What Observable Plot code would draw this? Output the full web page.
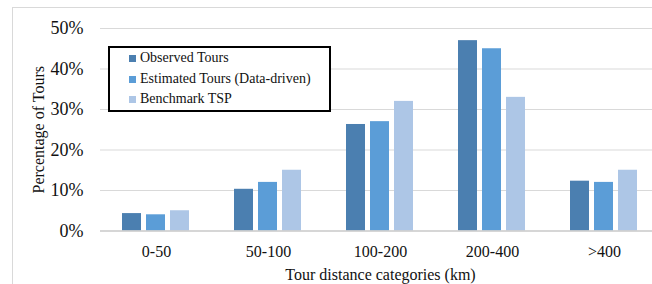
<!DOCTYPE html>
<html>
<head>
<meta charset="utf-8">
<script src="https://cdn.jsdelivr.net/npm/d3@7"></script>
<script src="https://cdn.jsdelivr.net/npm/@observablehq/plot@0.6"></script>
<style>
  html, body { margin: 0; padding: 0; background: #fff; }
  #wrap { position: relative; width: 652px; height: 284px; overflow: hidden; font-family: "Liberation Serif", "Times New Roman", serif; }
  #frame { position: absolute; left: 12px; top: 7px; width: 700px; height: 320px; border: 1px solid #d9d9d9; box-sizing: border-box; }
  #chart { position: absolute; left: 0; top: 0; width: 663px; }
  #chart svg { max-width: none !important; width: 663px; height: 284px; }
  #legend { position: absolute; left: 108px; top: 46px; width: 223px; height: 66px; border: 2px solid #000; box-sizing: border-box; background: #fff; }
  .item { position: absolute; left: 19px; height: 20px; display: flex; align-items: center; font-size: 14px; color: #111; white-space: nowrap; }
  .sw { width: 7px; height: 7px; margin-right: 4px; }
</style>
</head>
<body>
<div id="wrap">
  <div id="frame"></div>
  <div id="chart"></div>
  <div id="legend"></div>
</div>
<script>
const categories = ["0-50", "50-100", "100-200", "200-400", ">400"];
const seriesNames = ["Observed Tours", "Estimated Tours (Data-driven)", "Benchmark TSP"];
const seriesColors = ["#4b7fb0", "#5b9dd7", "#adc6e6"];
const observed  = [4.3, 10.3, 26.3, 47.0, 12.3];
const estimated = [4.0, 12.0, 27.0, 45.0, 12.0];
const benchmark = [5.0, 15.0, 32.0, 33.0, 15.0];
const yTicks = [0, 10, 20, 30, 40, 50];

const valuesBySeries = [observed, estimated, benchmark];
const data = [];
categories.forEach((c, i) => {
  seriesNames.forEach((s, j) => data.push({cat: c, series: s, value: valuesBySeries[j][i]}));
});

const plot = Plot.plot({
  width: 663,
  height: 284,
  marginLeft: 98,
  marginRight: 0.5,
  marginTop: 28,
  marginBottom: 53.5,
  style: {fontFamily: "Liberation Serif, Times New Roman, serif", background: "transparent", color: "#111", maxWidth: "none"},
  fx: {domain: categories, paddingInner: 0, paddingOuter: 0, label: null},
  x: {domain: seriesNames, paddingInner: 0.2, paddingOuter: 0.86, axis: null},
  y: {domain: [0, 50], label: null},
  color: {domain: seriesNames, range: seriesColors},
  marks: [
    Plot.ruleY(yTicks.filter(d => d > 0), {stroke: "#d9d9d9", strokeWidth: 1}),
    Plot.barY(data, {fx: "cat", x: "series", y: "value", fill: "series"}),
    Plot.ruleY([0], {stroke: "#c8c8c8", strokeWidth: 1.5}),
    Plot.axisY(yTicks, {tickSize: 0, tickPadding: 17, tickFormat: d => d + "%", fontSize: 18, fill: "#111",
      label: "Percentage of Tours", labelAnchor: "center", labelArrow: "none", labelOffset: 68}),
    Plot.axisFx({anchor: "bottom", tickSize: 0, tickPadding: 15, fontSize: 16, fill: "#111",
      label: "Tour distance categories (km)", labelAnchor: "center", labelArrow: "none", labelOffset: 49})
  ]
});
plot.querySelectorAll("[aria-label='y-axis label'] text, [aria-label='fx-axis label'] text").forEach(t => t.setAttribute("font-size", "16"));
document.getElementById("chart").appendChild(plot);

const legend = document.getElementById("legend");
const rowTops = [0, 21, 41];
seriesNames.forEach((s, j) => {
  const it = document.createElement("div");
  it.className = "item";
  it.style.top = (rowTops[j]) + "px";
  const sw = document.createElement("span");
  sw.className = "sw";
  sw.style.background = seriesColors[j];
  const tx = document.createElement("span");
  tx.textContent = s;
  it.appendChild(sw); it.appendChild(tx);
  legend.appendChild(it);
});
</script>
</body>
</html>
